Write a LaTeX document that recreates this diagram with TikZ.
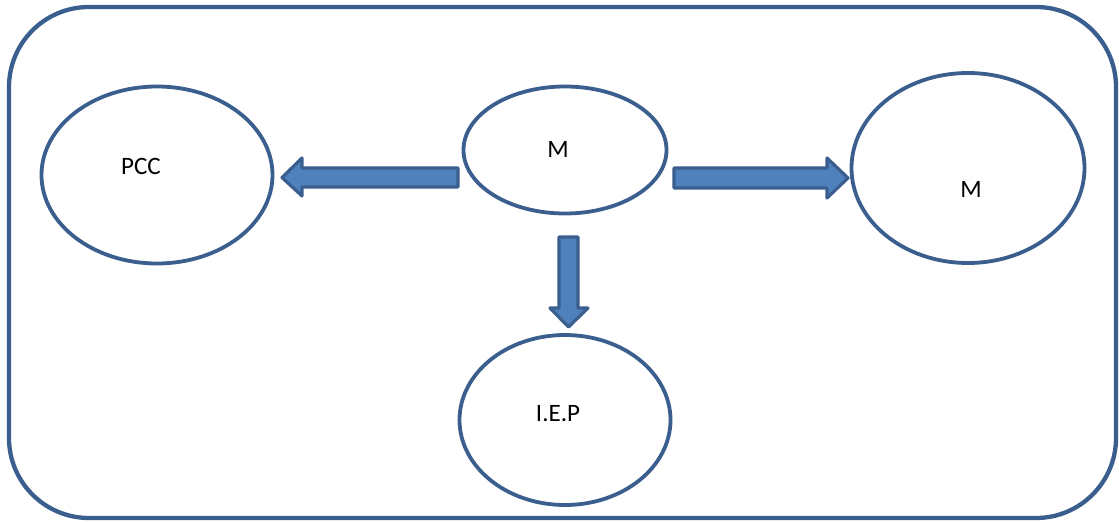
\documentclass[tikz,border=0pt]{standalone}
\usepackage{fontspec}
\setmainfont{Carlito}
\usetikzlibrary{shapes.geometric}
\definecolor{edge}{HTML}{3A5F8E}
\definecolor{arrfill}{HTML}{4F81BD}
\begin{document}
\begin{tikzpicture}[x=1pt,y=-1pt,
  oval/.style={ellipse,draw=edge,line width=3.8pt,inner sep=0pt},
  blockarrow/.style={draw=edge,fill=arrfill,line width=3.2pt,line join=round},
  lbl/.style={font=\fontsize{25}{28}\selectfont,inner sep=0pt}]
\useasboundingbox (0,0) rectangle (1119,522);
\draw[edge,line width=4.3pt,rounded corners=80pt] (9,7) rectangle (1116,518);
% ellipses
\node[oval,minimum width=231pt,minimum height=177pt] (pcc) at (157,175) {};
\node[oval,minimum width=203pt,minimum height=127pt] (mtop) at (565,150) {};
\node[oval,minimum width=233pt,minimum height=190pt] (mright) at (968,168) {};
\node[oval,minimum width=211pt,minimum height=170pt] (iep) at (565,420) {};
% labels
\node[lbl] (tpcc) at (141,166) {PCC};
\node[lbl] (tm1) at (558,149) {M};
\node[lbl] (tm2) at (971,189) {M};
\node[lbl] (tiep) at (558,414) {I.E.P};
% arrows
\draw[blockarrow] (458,168) -- (302,168) -- (302,158) -- (282,177.5) -- (302,196) -- (302,187) -- (458,187) -- cycle;
\draw[blockarrow] (674,168) -- (827,168) -- (827,158) -- (848,178) -- (827,198) -- (827,188) -- (674,188) -- cycle;
\draw[blockarrow] (559,237) -- (578,237) -- (578,308) -- (588,308) -- (568.5,327) -- (550,308) -- (559,308) -- cycle;
\end{tikzpicture}
\end{document}
